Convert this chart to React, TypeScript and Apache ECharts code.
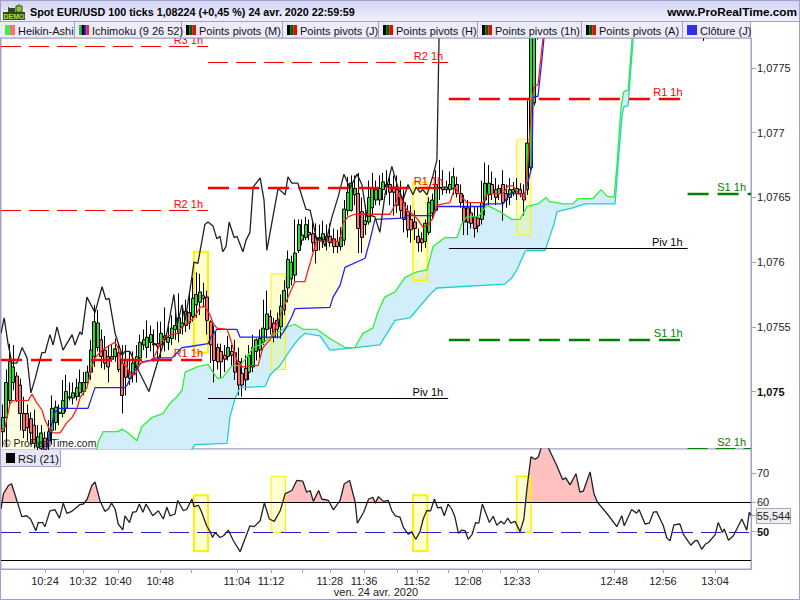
import React, { useEffect, useRef } from "react";
import * as echarts from "echarts";

const FONT = '"Liberation Sans", Arial, sans-serif';
const FRAME = "#A0A0C8";

const titleText = "Spot EUR/USD 100 ticks 1,08224 (+0,45 %) 24 avr. 2020 22:59:59";
const siteText = "www.ProRealTime.com";
const dateText = "ven. 24 avr. 2020";

const timeTicks: [number, string][] = [
  [12.5, "10:24"], [23.3, "10:32"], [33.2, "10:40"], [45.2, "10:48"], [54, ""], [67, "11:04"], [76.7, "11:12"],
  [85.5, ""], [93.4, "11:28"], [103.1, "11:36"], [112.5, ""], [118.1, "11:52"], [127, ""], [132.6, "12:08"],
  [136.6, ""], [141.7, ""], [146.5, "12:33"], [152.5, ""], [174.1, "12:48"], [188, "12:56"], [202.8, "13:04"],
];
const priceTicks = [1.075, 1.0755, 1.076, 1.0765, 1.077, 1.0775];
const rsiTicks = [50, 60, 70];
const rsiLast = 55.544;

const opens = [
  1.07469, 1.0748, 1.07493, 1.07507, 1.07512, 1.07505, 1.07483, 1.07483, 1.07479, 1.07474, 1.07457, 1.07456, 1.07464, 1.07462, 1.0747, 1.07476, 1.07483, 1.07483, 1.07487, 1.07495,
  1.07495, 1.07496, 1.07499, 1.075, 1.07507, 1.07515, 1.07527, 1.07534, 1.0754, 1.07532, 1.07527, 1.07527, 1.07527, 1.0753, 1.07522, 1.07524, 1.0751, 1.07513, 1.07518, 1.07526,
  1.07536, 1.07534, 1.07538, 1.07537, 1.07537, 1.07536, 1.0754, 1.07538, 1.07541, 1.07548, 1.07545, 1.0755, 1.07551, 1.07561, 1.07558, 1.07567, 1.07569, 1.07574, 1.07573, 1.07554,
  1.07546, 1.07534, 1.07531, 1.07528, 1.07527, 1.07531, 1.0753, 1.07523, 1.07514, 1.07518, 1.07515, 1.07519, 1.07531, 1.07532, 1.07538, 1.07548, 1.07558, 1.07553, 1.07555, 1.0755,
  1.07563, 1.0758, 1.07587, 1.0759, 1.07609, 1.07617, 1.07619, 1.07623, 1.07622, 1.07619, 1.07617, 1.07617, 1.0762, 1.0762, 1.07618, 1.07616, 1.07612, 1.07617, 1.0764, 1.0764,
  1.07652, 1.07653, 1.07639, 1.07629, 1.07631, 1.07642, 1.07648, 1.07648, 1.07656, 1.07658, 1.0766, 1.07658, 1.07656, 1.0765, 1.07646, 1.07639, 1.07633, 1.07631, 1.0762, 1.07618,
  1.07616, 1.07623, 1.07638, 1.0764, 1.07658, 1.07656, 1.07658, 1.07656, 1.07657, 1.0766, 1.07653, 1.07642, 1.07642, 1.07638, 1.07635, 1.07634, 1.07633, 1.07648, 1.07652, 1.0766,
  1.07656, 1.07653, 1.0766, 1.07653, 1.0765, 1.07654, 1.07653, 1.07656, 1.07653, 1.07656, 1.07673, 1.07723, 1.07774,
];
const closes = [
  1.0748, 1.07507, 1.07523, 1.07519, 1.07493, 1.07483, 1.0747, 1.07472, 1.07468, 1.0746, 1.07465, 1.07468, 1.07455, 1.07469, 1.07487, 1.07488, 1.07484, 1.07493, 1.075, 1.07496,
  1.07499, 1.07503, 1.07507, 1.07507, 1.07515, 1.07532, 1.07554, 1.07553, 1.07527, 1.07522, 1.07519, 1.07525, 1.07533, 1.07517, 1.07497, 1.07511, 1.07515, 1.07522, 1.07527, 1.07538,
  1.0754, 1.07542, 1.07544, 1.07536, 1.07535, 1.07545, 1.07543, 1.07542, 1.07549, 1.07551, 1.07557, 1.07553, 1.07562, 1.07553, 1.07572, 1.07575, 1.07577, 1.07572, 1.07555, 1.07536,
  1.07524, 1.07523, 1.07523, 1.07525, 1.07534, 1.07528, 1.07515, 1.07505, 1.07505, 1.07509, 1.07528, 1.07534, 1.0754, 1.07541, 1.07549, 1.0756, 1.07549, 1.07542, 1.07548, 1.07566,
  1.07578, 1.07602, 1.076, 1.07607, 1.07629, 1.07621, 1.07629, 1.07621, 1.07615, 1.07609, 1.07619, 1.07622, 1.07616, 1.07615, 1.07612, 1.07612, 1.07619, 1.07641, 1.07654, 1.07661,
  1.07657, 1.07626, 1.07619, 1.07632, 1.0765, 1.07657, 1.07656, 1.07657, 1.07662, 1.0766, 1.07654, 1.07654, 1.07644, 1.0764, 1.07633, 1.07625, 1.07625, 1.07626, 1.07615, 1.07615,
  1.0763, 1.07646, 1.07648, 1.0766, 1.07657, 1.07658, 1.07656, 1.0766, 1.07666, 1.07653, 1.07646, 1.07631, 1.07631, 1.0763, 1.07626, 1.07628, 1.07646, 1.07661, 1.07661, 1.07653,
  1.0765, 1.07657, 1.07646, 1.07648, 1.07656, 1.07656, 1.07657, 1.07653, 1.07648, 1.07692, 1.07783, 1.07779, 1.07787,
];
const lows = [
  1.07457, 1.07457, 1.0749, 1.07501, 1.07492, 1.0747, 1.07464, 1.07462, 1.07459, 1.07456, 1.07453, 1.07453, 1.07453, 1.07453, 1.07459, 1.0747, 1.07474, 1.0748, 1.07484, 1.07493,
  1.0749, 1.07493, 1.07496, 1.07497, 1.07505, 1.07509, 1.07519, 1.07531, 1.07518, 1.07517, 1.07507, 1.07523, 1.07523, 1.07515, 1.07483, 1.07497, 1.07505, 1.07507, 1.07507, 1.07523,
  1.07532, 1.07526, 1.07531, 1.07523, 1.07526, 1.07526, 1.07531, 1.07532, 1.07536, 1.0754, 1.07538, 1.07544, 1.07546, 1.07548, 1.07554, 1.07557, 1.07559, 1.07565, 1.07544, 1.07522,
  1.07507, 1.07517, 1.0751, 1.07515, 1.07524, 1.0752, 1.07509, 1.07497, 1.07496, 1.07501, 1.07509, 1.07515, 1.07524, 1.07526, 1.07536, 1.07541, 1.07544, 1.07538, 1.07541, 1.07541,
  1.07559, 1.07569, 1.07582, 1.07585, 1.07607, 1.07613, 1.07617, 1.07617, 1.07608, 1.07599, 1.07609, 1.07611, 1.07609, 1.07612, 1.07607, 1.07607, 1.07609, 1.07613, 1.07636, 1.07639,
  1.07644, 1.07607, 1.07607, 1.07621, 1.07629, 1.07636, 1.07644, 1.07644, 1.07648, 1.07652, 1.07644, 1.07636, 1.07638, 1.07634, 1.07623, 1.07619, 1.07615, 1.07617, 1.07608, 1.07608,
  1.07611, 1.07621, 1.07633, 1.07639, 1.07648, 1.07652, 1.07653, 1.07653, 1.07652, 1.0765, 1.07642, 1.07621, 1.07621, 1.07626, 1.07619, 1.07623, 1.07629, 1.07636, 1.07644, 1.07648,
  1.07644, 1.07648, 1.07632, 1.07642, 1.07644, 1.07651, 1.07648, 1.0765, 1.07636, 1.07652, 1.07671, 1.07721, 1.07772,
];
const highs = [
  1.0749, 1.07517, 1.07537, 1.07536, 1.07515, 1.0751, 1.07496, 1.0749, 1.07484, 1.07486, 1.07474, 1.07474, 1.07469, 1.07478, 1.07497, 1.07493, 1.0749, 1.07509, 1.07513, 1.07507,
  1.07507, 1.0751, 1.07517, 1.07515, 1.0752, 1.0754, 1.07567, 1.07563, 1.07548, 1.07543, 1.07536, 1.07536, 1.07541, 1.07537, 1.07536, 1.07536, 1.07531, 1.07531, 1.07536, 1.07544,
  1.07548, 1.07555, 1.07551, 1.07548, 1.07554, 1.07554, 1.07565, 1.07554, 1.07559, 1.07561, 1.07576, 1.07567, 1.07571, 1.07575, 1.07588, 1.07592, 1.07591, 1.07584, 1.07578, 1.07555,
  1.07551, 1.07537, 1.07537, 1.07536, 1.07543, 1.07536, 1.0754, 1.07534, 1.07526, 1.07528, 1.07536, 1.07544, 1.07541, 1.07548, 1.07571, 1.07578, 1.07563, 1.07557, 1.07561, 1.07575,
  1.07586, 1.07609, 1.07605, 1.07633, 1.07633, 1.07633, 1.07635, 1.07633, 1.07633, 1.0763, 1.07629, 1.07632, 1.07629, 1.0763, 1.07626, 1.07625, 1.07627, 1.07648, 1.07666, 1.07667,
  1.07667, 1.07669, 1.0765, 1.07644, 1.07663, 1.07669, 1.07663, 1.07667, 1.07669, 1.07671, 1.07667, 1.07667, 1.07667, 1.07663, 1.07656, 1.07644, 1.07644, 1.0764, 1.07626, 1.07623,
  1.07633, 1.0765, 1.07653, 1.07671, 1.07679, 1.07671, 1.07663, 1.0767, 1.07673, 1.07666, 1.0766, 1.07652, 1.07648, 1.07646, 1.07643, 1.07643, 1.07663, 1.07677, 1.07675, 1.0767,
  1.07665, 1.0766, 1.07671, 1.0766, 1.07665, 1.07662, 1.07665, 1.07661, 1.0766, 1.07725, 1.07795, 1.07795, 1.07795,
];
const strayBar = 199.5;
const strayCandle = [1.078, 1.078, 1.07771, 1.078];

const tenkan: [number, number][] = [
  [0, 1.0747], [1.1, 1.07472], [2.6, 1.07491], [3.4, 1.07493], [7.7, 1.07493], [8.8, 1.07498], [10.2, 1.07491], [11.6, 1.07486], [12.5, 1.07478], [13.9, 1.0747], [14.8, 1.07468], [16.8, 1.07468], [18.7, 1.07476], [20.2, 1.0748], [21.6, 1.07487], [22.4, 1.07495], [24.4, 1.07503], [25.8, 1.07519], [26.7, 1.07526], [28.7, 1.07532], [31, 1.07536], [32.4, 1.07538], [33.2, 1.07534], [34.4, 1.07522], [35.8, 1.07519], [36.6, 1.07513], [38.1, 1.07513], [39.5, 1.07522], [40.9, 1.07523], [42.9, 1.07524], [43.7, 1.07528], [46, 1.07541], [47.4, 1.07543], [50, 1.07545], [51.4, 1.0755], [53.1, 1.07553], [55.1, 1.07558], [56.5, 1.07565], [57.9, 1.07566], [59.4, 1.07559], [60.2, 1.07553], [61.3, 1.07549], [64.2, 1.07548], [65, 1.07542], [65.9, 1.07534], [67.3, 1.07522], [68.4, 1.07519], [70.7, 1.0752], [73, 1.0752], [74.4, 1.07534], [76.4, 1.0754], [81.2, 1.07571], [83.5, 1.07585], [86.3, 1.07585], [88.6, 1.07607], [89.5, 1.07616], [96.3, 1.07616], [97.1, 1.0763], [98.5, 1.07635], [100.5, 1.07637], [110.5, 1.07637], [112.2, 1.07646], [113, 1.07653], [114.2, 1.07646], [115.3, 1.0764], [116.4, 1.07638], [118.1, 1.07634], [119.8, 1.07627], [121.3, 1.07629], [122.7, 1.07634], [123.8, 1.07644], [125.5, 1.07645], [127.5, 1.07646], [128.9, 1.07658], [130.4, 1.07652], [132.3, 1.07646], [134, 1.07646], [136.9, 1.07646], [138, 1.07653], [142.6, 1.07653], [144, 1.07659], [145.4, 1.07659], [146.8, 1.07653], [148.8, 1.0765], [149.7, 1.07679], [150.8, 1.07725], [151.4, 1.07736], [152.5, 1.07737], [153.9, 1.07773], [155.3, 1.07818],
];
const kijun: [number, number][] = [
  [0, 1.0744], [12.5, 1.07451], [13.1, 1.07457], [13.9, 1.0747], [15.3, 1.07484], [16.5, 1.07487], [24.7, 1.07487], [26.7, 1.07503], [35.2, 1.07503], [35.8, 1.07505], [37.5, 1.07514], [40, 1.07523], [42.3, 1.07524], [43.7, 1.07526], [48.6, 1.07526], [50, 1.0753], [51.4, 1.07534], [54.2, 1.07535], [58.8, 1.07537], [59.6, 1.07542], [61.3, 1.07548], [67, 1.07548], [67.9, 1.07542], [79.2, 1.07542], [80.7, 1.07548], [82.6, 1.07558], [83.5, 1.07564], [93.4, 1.07565], [94.3, 1.07573], [96.3, 1.07582], [97.7, 1.07596], [103.4, 1.07603], [104.8, 1.07617], [106.2, 1.07633], [114.2, 1.07634], [115.6, 1.07636], [122.7, 1.07636], [124.1, 1.07643], [136.6, 1.07643], [138, 1.07645], [142.6, 1.07645], [144.6, 1.07653], [148.8, 1.07653], [150.8, 1.07674], [151.1, 1.07728], [152.5, 1.07728], [153.6, 1.07756], [154.2, 1.07773], [155.3, 1.07818],
];
const senkouA: [number, number][] = [
  [27, 1.07453], [27.6, 1.07461], [29, 1.07469], [33.2, 1.07469], [34.4, 1.07471], [36.1, 1.07468], [38.6, 1.07462], [40, 1.07473], [42.9, 1.0748], [46, 1.07483], [48, 1.07491], [50, 1.07496], [51.4, 1.07501], [52.3, 1.07515], [55.7, 1.07519], [58.8, 1.07521], [60.2, 1.07515], [61.6, 1.0751], [63, 1.07511], [65.6, 1.0752], [67.9, 1.0752], [69.9, 1.07527], [71.6, 1.07534], [74.4, 1.07537], [76.4, 1.07542], [81.2, 1.0755], [83.5, 1.07552], [85.8, 1.07548], [89.7, 1.07548], [93.4, 1.07541], [97.7, 1.07534], [100.5, 1.07534], [102.8, 1.07545], [105.6, 1.07549], [107, 1.07561], [109, 1.07573], [111.9, 1.07577], [114.7, 1.07588], [117.6, 1.07592], [121, 1.07594], [122.7, 1.07612], [126.1, 1.07619], [129.5, 1.07619], [130.9, 1.0763], [132.3, 1.07635], [135.5, 1.07635], [138, 1.07644], [141.7, 1.07639], [145.1, 1.07633], [147.4, 1.07633], [149.4, 1.07643], [152.5, 1.07645], [154.8, 1.0765], [155.6, 1.07647], [157.9, 1.07646], [159.6, 1.07645], [162.4, 1.07645], [163.9, 1.07649], [168.1, 1.07649], [170.4, 1.07656], [172.1, 1.07651], [174.1, 1.0765], [174.9, 1.07674], [176.1, 1.0772], [176.9, 1.07732], [178.1, 1.07733], [179.2, 1.07772], [181.5, 1.07818],
];
const senkouB: [number, number][] = [
  [53.7, 1.07453], [55.1, 1.07459], [64.2, 1.0746], [65, 1.0748], [66.5, 1.07495], [67.9, 1.07503], [75, 1.07504], [76.4, 1.07513], [79.2, 1.0752], [82.1, 1.07532], [84.3, 1.0754], [86.3, 1.07545], [90.6, 1.07543], [93.4, 1.07532], [100.5, 1.07534], [107.6, 1.07536], [111.9, 1.07555], [116.2, 1.07557], [121.8, 1.07575], [123.8, 1.0758], [143.1, 1.07583], [145.1, 1.07588], [146.5, 1.07594], [148.8, 1.07608], [149.4, 1.07609], [154.5, 1.07609], [157, 1.07629], [157.9, 1.07639], [162.4, 1.07642], [165.9, 1.07645], [174.4, 1.07645], [175.2, 1.07674], [176.4, 1.07714], [176.9, 1.0772], [178.1, 1.07721], [179.5, 1.07772], [182, 1.07818],
];
const chikou: [number, number][] = [
  [0, 1.07545], [0.9, 1.07557], [2, 1.07537], [3.1, 1.07522], [4.5, 1.07522], [6, 1.07534], [7.4, 1.07526], [8.5, 1.07499], [9.7, 1.0751], [11.6, 1.0753], [12.5, 1.0753], [13.9, 1.07544], [14.8, 1.07536], [15.9, 1.0755], [17.6, 1.07532], [20.2, 1.07544], [21, 1.07536], [22.4, 1.07546], [23, 1.07544], [24.4, 1.07573], [26.7, 1.07561], [28.7, 1.07581], [29.8, 1.07571], [30.7, 1.07572], [32.4, 1.07545], [34.4, 1.07528], [35.2, 1.07531], [36.6, 1.07531], [38.9, 1.07517], [42, 1.075], [44.6, 1.07524], [46, 1.07536], [47.1, 1.07545], [49.1, 1.07575], [50, 1.07551], [51.4, 1.07567], [52.3, 1.07555], [54.2, 1.07588], [54.8, 1.076], [55.9, 1.07599], [57.9, 1.07629], [58.8, 1.07631], [60.2, 1.07628], [61.3, 1.07618], [62.2, 1.0762], [63, 1.07608], [63.9, 1.07612], [64.8, 1.07631], [66.2, 1.07619], [67, 1.0762], [68.7, 1.07608], [69.6, 1.07617], [70.7, 1.07623], [71.6, 1.07658], [73.6, 1.07665], [74.7, 1.07648], [75.5, 1.07609], [78.7, 1.07657], [80.7, 1.07652], [81.5, 1.07666], [82.6, 1.07661], [84.3, 1.07661], [86.6, 1.07641], [87.8, 1.0764], [89.7, 1.07617], [91.2, 1.07619], [92, 1.07612], [94, 1.07635], [95.7, 1.0765], [97.4, 1.07668], [99.1, 1.07657], [101.1, 1.07668], [102.5, 1.0766], [103.9, 1.07635], [105.1, 1.07636], [106.2, 1.07635], [107.6, 1.07623], [109.1, 1.07653], [111, 1.07674], [112.7, 1.07658], [114.2, 1.07648], [115.6, 1.0766], [117, 1.07652], [117.9, 1.07658], [119, 1.07654], [119.8, 1.07656], [121, 1.07652], [122.7, 1.07667], [123.8, 1.07679], [124.4, 1.07773], [125, 1.07818],
];
const rsi: [number, number][] = [
  [0, 57.7], [0.7, 62.9], [2.1, 65.7], [3, 66.3], [4.5, 60.6], [5.9, 55.1], [7.3, 55.4], [8.4, 54.3], [9.9, 50.3], [10.6, 53.1], [11.8, 53.1], [12.5, 51.7], [13.9, 57.1], [15.3, 57.5], [16.6, 54.6], [17.7, 59.7], [18.7, 56.2], [20.1, 56.9], [22.4, 59.2], [23.4, 59.4], [24.5, 61.1], [25.8, 65.7], [26.7, 66.9], [28.1, 60.6], [29.5, 56.9], [30.5, 57.7], [31.4, 59.7], [32.4, 57.7], [33.3, 52.6], [34.6, 50.6], [35.2, 55.4], [36.5, 53.1], [37.4, 56.6], [38.4, 56.8], [39.3, 59.4], [40.3, 56.6], [41.2, 59.4], [43.1, 55.4], [44.7, 57.1], [46.1, 54.3], [47.1, 58.3], [48, 55.4], [49.4, 56], [50.2, 60.6], [51.8, 57.1], [52.8, 57.7], [54.2, 61.1], [54.8, 58.5], [56.1, 58.9], [57, 56.6], [58.4, 52], [59.4, 50], [60.1, 48], [60.8, 49.7], [62.2, 48], [63.2, 48.6], [64.6, 50.5], [66, 46.9], [67.9, 43.2], [70.7, 52], [71.9, 51.7], [73.6, 53.7], [74.8, 59.8], [76.2, 54.3], [77.6, 53.5], [79.3, 57.1], [80.7, 62.9], [82.6, 64], [84, 67.4], [85.7, 67.2], [86.8, 63.4], [87.8, 64], [88.7, 60.3], [90.2, 64], [91.1, 61.1], [93, 60.6], [94.4, 57.4], [96.3, 60.6], [97.5, 66.3], [99, 67.4], [100.6, 60], [101.2, 52.9], [103, 56.6], [104.4, 61.1], [105.6, 61.7], [106.3, 59.7], [107.2, 61.9], [108.6, 60.3], [110, 60.6], [111, 57.1], [112, 55.4], [113.3, 54.9],
  [114.3, 51.4], [115.7, 49.1], [116.6, 50], [117.8, 47.4], [119, 50], [119.9, 54.3], [120.9, 57.1], [122, 57.1], [123.1, 61.1], [124, 58.1], [125, 58.3], [125.9, 55.4], [127, 59.4], [128, 57.7], [128.9, 55.1], [129.9, 49.4], [130.8, 50.5], [131.8, 50.3], [132.7, 47.4], [133.8, 49.1], [134.8, 53.1], [135.7, 52.9], [136.7, 59.4], [138.7, 53.1], [139.8, 55.2], [140.8, 52.2], [142, 53.5], [142.9, 52.6], [143.9, 54.6], [144.8, 52.9], [146, 53.5], [147.4, 50], [148.5, 54.3], [149.3, 64], [150.5, 75.4], [151.7, 74.6], [152.6, 75.4], [153.5, 78.9], [155.4, 78.6], [157.8, 72.6], [159.5, 67.7], [160.4, 68.3], [161.6, 65.9], [163.3, 69.7], [164.4, 63.4], [165.4, 63.8], [167.3, 70.3], [168.4, 62.9], [169.4, 60], [172.2, 56], [174.9, 51.7], [176.3, 55.4], [177, 52], [179.1, 57.5], [180.5, 56.3], [181.2, 57.5], [182.9, 52.6], [184.1, 52.9], [185.3, 56.6], [186.2, 56.8], [188.1, 52], [189.1, 47.8], [190, 46.9], [191.1, 52.3], [192.8, 52.6], [193.8, 49.1], [195.9, 45.4], [197.1, 46.9], [197.8, 47], [199, 44], [200, 45.7], [200.9, 46.3], [202.8, 48.9], [203.7, 53.1], [204.9, 49.7], [205.4, 50.9], [206.6, 47.1], [208, 48.6], [210.4, 54.3], [211.8, 50.5], [212.5, 56.6], [213, 55.544],
];

// from bar, to bar, level, label, colour, width, dash
const pivots: [number, number, number, string, string, number, number[] | null][] = [
  [0, 58.8, 1.07767, "R3 1h", "#FF0000", 1, [20, 8]],
  [0, 58.8, 1.0764, "R2 1h", "#FF0000", 1, [20, 8]],
  [0, 58.8, 1.07524, "R1 1h", "#FF0000", 2.5, [21, 9]],
  [58.8, 127, 1.07755, "R2 1h", "#FF0000", 1, [20, 8]],
  [58.8, 127, 1.07657, "R1 1h", "#FF0000", 2.5, [21, 9]],
  [58.8, 127, 1.07495, "Piv 1h", "#000000", 1, null],
  [127.2, 195, 1.07726, "R1 1h", "#FF0000", 2.5, [21, 9]],
  [127.2, 195, 1.07611, "Piv 1h", "#000000", 1, null],
  [127.2, 195, 1.0754, "S1 1h", "#008000", 2.5, [21, 9]],
  [195, 213, 1.07653, "S1 1h", "#008000", 2.5, [21, 9]],
  [195, 213, 1.07456, "S2 1h", "#008000", 1, [20, 8]],
];
const rsiLevels: [number, number, number, string, string, number, number[] | null][] = [
  [0, 213, 60, "", "#000000", 1, null],
  [0, 213, 50, "", "#2222CC", 1, [20, 8]],
  [0, 213, 40.2, "", "#000000", 1, null],
];
// from bar, to bar, top, bottom, border width
const priceZones = [
  [54.8, 58.8, 1.07608, 1.0753, 2],
  [76.7, 80.8, 1.07591, 1.07517, 1],
  [117, 121.1, 1.07662, 1.07586, 1.5],
  [146.5, 150.5, 1.07695, 1.07621, 1],
];
const rsiZones = [
  [54.8, 58.8, 62.4, 43.4, 2],
  [76.7, 80.8, 68.8, 49.8, 1],
  [117, 121.1, 62.4, 43.4, 2],
  [146.5, 150.5, 68.8, 49.8, 1.5],
];
const tabs: [number, number, string, string[]][] = [
  [1, 75, "Heikin-Ashi", ["#40F040", "#FF7070"]],
  [75, 182, "Ichimoku (9 26 52)", ["#20D020", "#000000", "#2020FF", "#FF2020"]],
  [182, 283, "Points pivots (M)", ["#000000", "#006000", "#FF0000"]],
  [283, 379, "Points pivots (J)", ["#000000", "#006000", "#FF0000"]],
  [379, 478, "Points pivots (H)", ["#000000", "#006000", "#FF0000"]],
  [478, 582, "Points pivots (1h)", ["#000000", "#006000", "#FF0000"]],
  [582, 683, "Points pivots (A)", ["#000000", "#006000", "#FF0000"]],
  [683, 751, "Clôture (J)", ["#3030E0"]],
];

const BARS = 213;
const PRICE_MIN = 1.074556;
const PRICE_MAX = 1.077732;
const RSI_MIN = 37.3;
const RSI_MAX = 78.1;

const candleData: number[][] = opens.map((o, i) => [i + 0.5, o, closes[i], lows[i], highs[i]]);
candleData.push([strayBar, ...strayCandle]);

function aboveLevel(points: [number, number][], level: number) {
  const out: [number, number][] = [];
  points.forEach((p, i) => {
    const prev = points[i - 1];
    if (prev && (prev[1] - level) * (p[1] - level) < 0) {
      out.push([prev[0] + ((level - prev[1]) / (p[1] - prev[1])) * (p[0] - prev[0]), level]);
    }
    out.push([p[0], Math.max(p[1], level)]);
  });
  return out;
}

function bandSeries(axis: number, upper: [number, number][], lower: [number, number][], fill: string, z: number) {
  return {
    type: "custom", xAxisIndex: axis, yAxisIndex: axis, z, clip: true, silent: true, data: [0],
    renderItem: (_p: any, api: any) => ({
      type: "polygon",
      shape: { points: [...upper, ...[...lower].reverse()].map((p) => api.coord(p)) },
      style: { fill },
    }),
  };
}
function zoneSeries(axis: number, zones: number[][]) {
  return {
    type: "custom", xAxisIndex: axis, yAxisIndex: axis, z: 2, clip: true, silent: true, data: zones,
    renderItem: (_p: any, api: any) => {
      const a = api.coord([api.value(0), api.value(2)]);
      const b = api.coord([api.value(1), api.value(3)]);
      return {
        type: "rect",
        shape: { x: a[0], y: a[1], width: b[0] - a[0], height: b[1] - a[1] },
        style: { fill: "rgba(255,255,60,0.24)", stroke: "#FFF000", lineWidth: api.value(4) },
      };
    },
  };
}
function levelSeries(axis: number, rows: typeof pivots, z: number) {
  return {
    type: "custom", xAxisIndex: axis, yAxisIndex: axis, z, clip: true, silent: true,
    data: rows.map((_r, i) => [i]),
    renderItem: (p: any, api: any) => {
      const [from, to, level, label, color, width, dash] = rows[p.dataIndex];
      const a = api.coord([from, level]);
      const b = api.coord([to, level]);
      const y = Math.round(a[1]) + (width === 1 ? 0.5 : 0);
      const children: any[] = [{
        type: "line",
        shape: { x1: a[0], y1: y, x2: b[0], y2: y },
        style: { stroke: color, lineWidth: width, lineDash: dash || undefined, fill: null },
      }];
      if (label) {
        children.push({
          type: "text",
          style: { x: b[0] - 5, y: y - 7, text: label, fill: color, font: `11px ${FONT}`, align: "right", verticalAlign: "middle" },
        });
      }
      return { type: "group", children };
    },
  };
}
function lineSeries(axis: number, data: [number, number][], color: string, z: number, width = 1.3) {
  return {
    type: "line", xAxisIndex: axis, yAxisIndex: axis, data, z, showSymbol: false, symbol: "none", silent: true,
    lineStyle: { color, width }, itemStyle: { color },
  };
}

function chrome() {
  const z = 100;
  const els: any[] = [];
  const rect = (x: number, y: number, w: number, h: number, style: any) => els.push({ type: "rect", z, shape: { x, y, width: w, height: h }, style });
  const text = (x: number, y: number, t: string, font: string, fill = "#000", align = "left") =>
    els.push({ type: "text", z: z + 1, x, y, style: { text: t, font, fill, align, verticalAlign: "middle" } });

  rect(0, 0, 800, 22, { fill: new echarts.graphic.LinearGradient(0, 0, 0, 1, [{ offset: 0, color: "#D2D2F4" }, { offset: 1, color: "#F2F2FF" }]) });
  rect(0, 0, 800, 1, { fill: FRAME });
  rect(0, 21, 800, 1, { fill: FRAME });
  rect(0, 0, 1, 600, { fill: FRAME });
  rect(0, 599, 800, 1, { fill: FRAME });
  rect(799, 0, 1, 600, { fill: FRAME });

  rect(3, 12, 22, 8, { fill: "#2E4A1E" });
  rect(8, 7, 1, 6, { fill: "#2E4A1E" });
  rect(9, 8, 6, 5, { fill: "#2E4A1E" });
  rect(18.5, 4, 1, 8, { fill: "#2E4A1E" });
  rect(16, 6, 6, 6, { fill: "#96C828", stroke: "#2E4A1E", lineWidth: 1 });
  text(14, 16.2, "DEMO", `bold 7px ${FONT}`, "#B8E040", "center");
  text(30, 12, titleText, `bold 10.75px ${FONT}`);
  text(797, 12, siteText, `bold 11.8px ${FONT}`, "#000", "right");

  rect(0, 22, 751, 16, { fill: "#ECECFA" });
  rect(0, 37.5, 751, 1, { fill: FRAME });
  tabs.forEach(([x0, x1, label, colors]) => {
    const stripe = 10 / colors.length;
    colors.forEach((c, i) => rect(x0 + 4 + i * stripe, 25, stripe, 10, { fill: c }));
    text(x0 + 17, 30.5, label, `11px ${FONT}`, "#111");
    rect(x1 - 1, 22, 1, 16, { fill: FRAME });
  });

  rect(1, 450, 59, 17, { fill: "#E6E6F8" });
  rect(1, 466, 60, 1, { fill: FRAME });
  rect(60, 450, 1, 17, { fill: FRAME });
  rect(6, 453, 9, 10, { fill: "#000" });
  text(18, 458.5, "RSI (21)", `11px ${FONT}`, "#111");

  text(3, 443, "© ProRealTime.com", `10.4px ${FONT}`, "#222");

  rect(756.5, 508.5, 34, 15, { fill: "#EDEDF2", stroke: "#A8A8B0", lineWidth: 1 });
  text(773.5, 516, "55,544", `11px ${FONT}`, "#222", "center");
  text(376, 591.5, dateText, `11px ${FONT}`, "#222", "center");
  return els;
}

const option: any = {
  animation: false,
  backgroundColor: "#FFFFFF",
  textStyle: { fontFamily: FONT },
  grid: [
    { left: 1, width: 750, top: 38, height: 411, show: true, borderColor: FRAME, borderWidth: 1, backgroundColor: "#fff" },
    { left: 1, width: 750, top: 449, height: 120, show: true, borderColor: FRAME, borderWidth: 1, backgroundColor: "#fff" },
  ],
  xAxis: [
    { type: "value", gridIndex: 0, min: 0, max: BARS, show: false, axisLine: { onZero: false } },
    {
      type: "value", gridIndex: 1, min: 0, max: BARS, splitLine: { show: false },
      axisLine: { onZero: false, lineStyle: { color: FRAME } },
      axisTick: { length: 4, lineStyle: { color: FRAME }, customValues: timeTicks.map((t) => t[0]) },
      axisLabel: {
        color: "#222", fontSize: 11, fontFamily: FONT, margin: 6, hideOverlap: false,
        customValues: timeTicks.filter((t) => t[1]).map((t) => t[0]),
        formatter: (v: number) => (timeTicks.find((t) => Math.abs(t[0] - v) < 0.01) || [0, ""])[1],
      },
    },
  ],
  yAxis: [
    {
      type: "value", gridIndex: 0, position: "right", min: PRICE_MIN, max: PRICE_MAX, scale: true, splitLine: { show: false },
      axisLine: { show: true, onZero: false, lineStyle: { color: FRAME } },
      axisTick: { show: true, length: 5, lineStyle: { color: FRAME }, customValues: priceTicks },
      axisLabel: {
        color: "#222", fontSize: 11, fontFamily: FONT, margin: 6, customValues: priceTicks,
        formatter: (v: number) => {
          const s = String(+v.toFixed(4)).replace(".", ",");
          return Math.abs(v - 1.075) < 1e-6 ? `{b|${s}}` : s;
        },
        rich: { b: { fontWeight: "bold", fontSize: 11, color: "#111", fontFamily: FONT } },
      },
    },
    {
      type: "value", gridIndex: 1, position: "right", min: RSI_MIN, max: RSI_MAX, splitLine: { show: false },
      axisLine: { show: true, onZero: false, lineStyle: { color: FRAME } },
      axisTick: { show: true, length: 5, lineStyle: { color: FRAME }, customValues: [...rsiTicks, rsiLast] },
      axisLabel: {
        color: "#222", fontSize: 11, fontFamily: FONT, margin: 6, customValues: rsiTicks,
        formatter: (v: number) => (v === 50 ? `{b|${v}}` : String(v)),
        rich: { b: { fontWeight: "bold", fontSize: 11, color: "#111", fontFamily: FONT } },
      },
    },
  ],
  graphic: { elements: chrome() },
  series: [
    bandSeries(0, senkouA, senkouB, "#D2EEFB", 1),
    bandSeries(0, tenkan, kijun, "#FFFFE0", 1),
    zoneSeries(0, priceZones),
    {
      type: "candlestick", xAxisIndex: 0, yAxisIndex: 0, z: 4, silent: true, barWidth: 3.5, data: candleData,
      itemStyle: { color: "#28E028", color0: "#FF7070", borderColor: "#000", borderColor0: "#000", borderWidth: 1 },
    },
    lineSeries(0, senkouB, "#20D0D0", 5),
    lineSeries(0, senkouA, "#30F030", 5),
    lineSeries(0, kijun, "#2020FF", 5),
    lineSeries(0, tenkan, "#FF2020", 5),
    lineSeries(0, chikou, "#222222", 5),
    levelSeries(0, pivots, 6),
    bandSeries(1, aboveLevel(rsi, 60), [], "#FFC0C0", 1),
    zoneSeries(1, rsiZones),
    levelSeries(1, rsiLevels, 3),
    lineSeries(1, rsi, "#222222", 5),
  ],
};

export default function App() {
  const ref = useRef<HTMLDivElement>(null);
  useEffect(() => {
    document.body.style.margin = "0";
    const chart = echarts.init(ref.current!, null, { renderer: "svg" });
    chart.setOption(option);
    return () => chart.dispose();
  }, []);
  return <div ref={ref} style={{ position: "fixed", left: 0, top: 0, width: 800, height: 600 }} />;
}
